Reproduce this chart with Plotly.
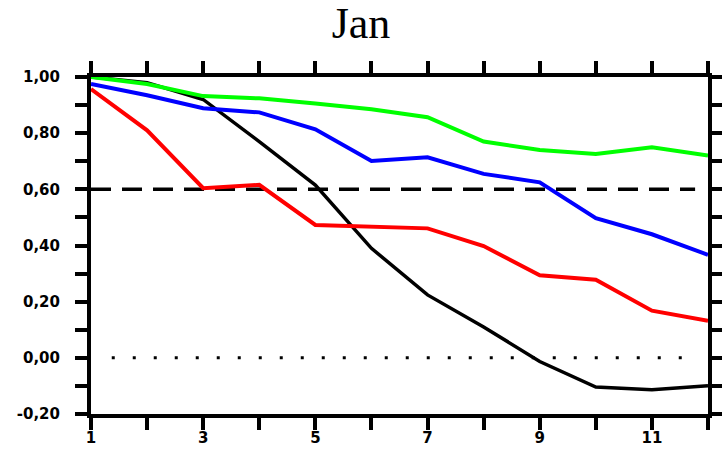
import plotly.graph_objects as go

months = list(range(1, 13))
black_vals = [1.00, 0.98, 0.92, 0.77, 0.615, 0.39, 0.224, 0.11, -0.013, -0.104, -0.114, -0.099]
red_vals = [0.957, 0.81, 0.604, 0.616, 0.473, 0.467, 0.461, 0.398, 0.294, 0.278, 0.168, 0.132]
blue_vals = [0.975, 0.935, 0.889, 0.874, 0.814, 0.701, 0.714, 0.655, 0.625, 0.497, 0.44, 0.367]
green_vals = [1.00, 0.975, 0.932, 0.924, 0.906, 0.885, 0.857, 0.77, 0.74, 0.726, 0.75, 0.72]

dash_level = 0.60
dot_level = 0.00
dash_x = [1, 11.77]
dot_x = [1.37, 11.77]

y_tickvals = [-0.2, -0.1, 0.0, 0.1, 0.2, 0.3, 0.4, 0.5, 0.6, 0.7, 0.8, 0.9, 1.0]
y_ticktext = ["-0,20", "", "0,00", "", "0,20", "", "0,40", "", "0,60", "", "0,80", "", "1,00"]
x_tickvals = months
x_ticktext = ["1", "", "3", "", "5", "", "7", "", "9", "", "11", ""]

fig = go.Figure()
fig.add_trace(go.Scatter(x=dash_x, y=[dash_level, dash_level], mode="lines",
                         line=dict(color="black", width=3.5, dash="20px,11px"), showlegend=False))
fig.add_trace(go.Scatter(x=dot_x, y=[dot_level, dot_level], mode="lines",
                         line=dict(color="black", width=3, dash="3px,18px"), showlegend=False))
fig.add_trace(go.Scatter(x=months, y=black_vals, mode="lines",
                         line=dict(color="black", width=3.5), showlegend=False))
fig.add_trace(go.Scatter(x=months, y=red_vals, mode="lines",
                         line=dict(color="#ff0000", width=4), showlegend=False))
fig.add_trace(go.Scatter(x=months, y=blue_vals, mode="lines",
                         line=dict(color="#0000ff", width=4), showlegend=False))
fig.add_trace(go.Scatter(x=months, y=green_vals, mode="lines",
                         line=dict(color="#00ff00", width=4), showlegend=False))

axis_common = dict(showline=True, linecolor="black", linewidth=4, mirror="ticks",
                   ticks="outside", ticklen=12, tickwidth=4, tickcolor="black",
                   showgrid=False, zeroline=False, automargin=False,
                   tickfont=dict(family="DejaVu Sans", size=15, color="black", weight="bold"))

fig.update_xaxes(range=[1, 12], tickmode="array", tickvals=x_tickvals, ticktext=x_ticktext,
                 ticklabelstandoff=-5, **axis_common)
fig.update_yaxes(range=[-0.2, 1.0], tickmode="array", tickvals=y_tickvals, ticktext=y_ticktext,
                 ticklabelstandoff=12, **axis_common)

fig.update_layout(
    width=722, height=450,
    margin=dict(l=91, r=14, t=77, b=36),
    paper_bgcolor="white", plot_bgcolor="white",
    title=dict(text="Jan", x=0.5, xanchor="center", y=0.95, yanchor="middle",
               font=dict(family="Liberation Serif", size=44, color="black")),
)

fig.write_html("out.html", config={"displayModeBar": False},
               post_script="document.body.style.margin='0';")
